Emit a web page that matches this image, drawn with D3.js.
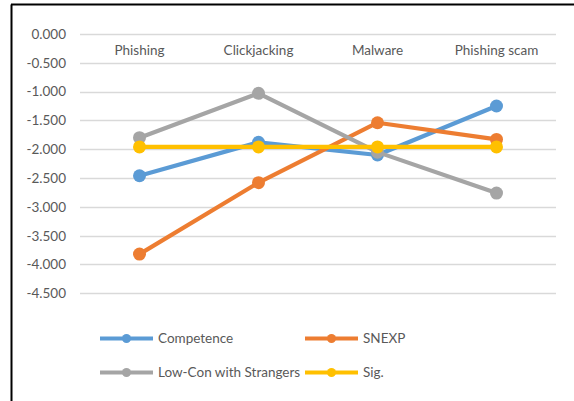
<!DOCTYPE html>
<html><head><meta charset="utf-8">
<script src="https://cdn.jsdelivr.net/npm/d3@7"></script>
<style>
html,body{margin:0;padding:0;background:#fff;}
svg{display:block;}
text{font-family:Lato,"Open Sans",sans-serif;fill:#595959;}
</style></head>
<body>
<script>
const categories = ["Phishing","Clickjacking","Malware","Phishing scam"];
const competence = [-2.46,-1.88,-2.10,-1.25];
const snexp = [-3.82,-2.58,-1.54,-1.83];
const lowCon = [-1.80,-1.03,-2.05,-2.76];
const sig = [-1.96,-1.96,-1.96,-1.96];
const yTicks = [0,-0.5,-1,-1.5,-2,-2.5,-3,-3.5,-4,-4.5];
const seriesNames = ["Competence","SNEXP","Low-Con with Strangers","Sig."];
const colors = ["#5B9BD5","#ED7D31","#A5A5A5","#FFC000"];

const series = [competence, snexp, lowCon, sig].map((v,i)=>({name:seriesNames[i], values:v, color:colors[i]}));

const W=574,H=401;
const FS="13.5px";
const svg=d3.select("body").append("svg").attr("width",W).attr("height",H);

// border (left and top only visible)
svg.append("line").attr("x1",11.5).attr("x2",11.5).attr("y1",4.5).attr("y2",H).attr("stroke","#000").attr("stroke-width",2);
svg.append("line").attr("x1",11).attr("x2",W).attr("y1",4.5).attr("y2",4.5).attr("stroke","#000").attr("stroke-width",2);

const x=d3.scaleBand().domain(categories).range([80,556]);
const y=d3.scaleLinear().domain([-4.5,0]).range([293.3,34]);

// gridlines
svg.append("g").selectAll("line").data(yTicks).join("line")
  .attr("x1",80).attr("x2",556)
  .attr("y1",d=>Math.round(y(d))+0.5).attr("y2",d=>Math.round(y(d))+0.5)
  .attr("stroke","#D9D9D9").attr("stroke-width",1.3);

// y axis labels
const yAxis=d3.axisLeft(y).tickValues(yTicks).tickFormat(d3.format(".3f")).tickSize(0).tickPadding(14);
const ya=svg.append("g").attr("transform","translate(80,0)").call(yAxis);
ya.select(".domain").remove();
ya.selectAll("text").style("font-size",FS).style("font-family","Lato,'Open Sans',sans-serif").attr("fill","#595959");
ya.selectAll("text").text(d=>d3.format(".3f")(d).replace("−","-"));

// category labels at the zero axis
const xAxis=d3.axisBottom(x).tickSize(0).tickPadding(11);
const xa=svg.append("g").attr("transform",`translate(0,${y(0)})`).call(xAxis);
xa.select(".domain").remove();
xa.selectAll("text").style("font-size",FS).style("font-family","Lato,'Open Sans',sans-serif").attr("fill","#595959");

const cx=c=>x(c)+x.bandwidth()/2;
const line=d3.line().x((d,i)=>cx(categories[i])).y(d=>y(d));

const g=svg.append("g");
series.forEach(s=>{
  g.append("path").datum(s.values).attr("d",line).attr("fill","none")
    .attr("stroke",s.color).attr("stroke-width",4.2).attr("stroke-linejoin","round").attr("stroke-linecap","round");
  g.append("g").selectAll("circle").data(s.values).join("circle")
    .attr("cx",(d,i)=>cx(categories[i])).attr("cy",d=>y(d)).attr("r",6.5).attr("fill",s.color);
});

// legend
const legPos=[[100,338.5],[305,338.5],[100,372.5],[305,372.5]];
series.forEach((s,i)=>{
  const [lx,ly]=legPos[i];
  const lg=svg.append("g").attr("transform",`translate(${lx},${ly})`);
  lg.append("line").attr("x1",0).attr("x2",53).attr("stroke",s.color).attr("stroke-width",4);
  lg.append("circle").attr("cx",26.5).attr("r",4.5).attr("fill",s.color);
  lg.append("text").attr("x",58).attr("dy","0.35em").style("font-size",FS).text(s.name);
});
</script>
</body></html>
